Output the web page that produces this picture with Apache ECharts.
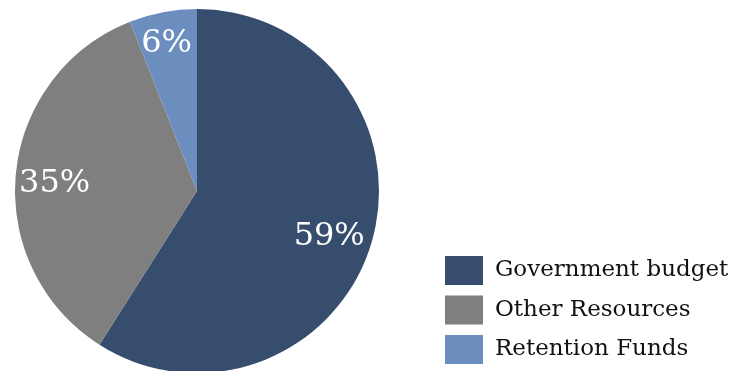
<!DOCTYPE html>
<html>
<head>
<meta charset="utf-8">
<script src="https://cdn.jsdelivr.net/npm/echarts@6/dist/echarts.min.js"></script>
<style>
  html, body { margin: 0; padding: 0; background: #ffffff; }
  #chart { width: 733px; height: 371px; }
</style>
</head>
<body>
<div id="chart"></div>
<script>
// Funding sources, share of total (%)
const categories = ['Government budget', 'Other Resources', 'Retention Funds'];
const shares = [59, 35, 6];
const colors = ['#374D6E', '#7F7F7F', '#6C8EBF'];

// small per-slice nudges for the in-slice percentage labels [dx, dy]
const labelNudge = [[-8, 5], [3, 6], [-3, -4]];

const FONT = '"DejaVu Serif", "Liberation Serif", serif';

const chart = echarts.init(document.getElementById('chart'), null, { renderer: 'canvas' });

const sliceData = categories.map((name, i) => ({
  name: name,
  value: shares[i],
  itemStyle: { color: colors[i] }
}));

const labelData = categories.map((name, i) => ({
  name: name,
  value: shares[i]
}));

chart.setOption({
  animation: false,
  backgroundColor: '#ffffff',
  legend: {
    orient: 'vertical',
    left: 445,
    top: 256,
    icon: 'rect',
    itemWidth: 38,
    itemHeight: 29,
    itemGap: 10.5,
    padding: 0,
    data: categories,
    textStyle: {
      fontFamily: FONT,
      fontSize: 23,
      color: '#111111',
      padding: [0, 0, 0, 7]
    }
  },
  series: [
    {
      type: 'pie',
      center: [197, 191],
      radius: [0, 182],
      startAngle: 90,
      clockwise: true,
      silent: true,
      label: { show: false },
      labelLine: { show: false },
      itemStyle: { borderWidth: 0 },
      data: sliceData
    },
    {
      // transparent ring carrying the percentage labels
      type: 'pie',
      center: [197, 191],
      radius: [104, 182],
      startAngle: 90,
      clockwise: true,
      silent: true,
      legendHoverLink: false,
      itemStyle: { color: 'rgba(0,0,0,0)', borderWidth: 0 },
      label: {
        show: true,
        position: 'inside',
        formatter: '{c}%',
        color: '#ffffff',
        fontFamily: FONT,
        fontSize: 32
      },
      labelLine: { show: false },
      labelLayout: function (params) {
        const n = labelNudge[params.dataIndex] || [0, 0];
        return { dx: n[0], dy: n[1] };
      },
      data: labelData
    }
  ]
});
</script>
</body>
</html>
